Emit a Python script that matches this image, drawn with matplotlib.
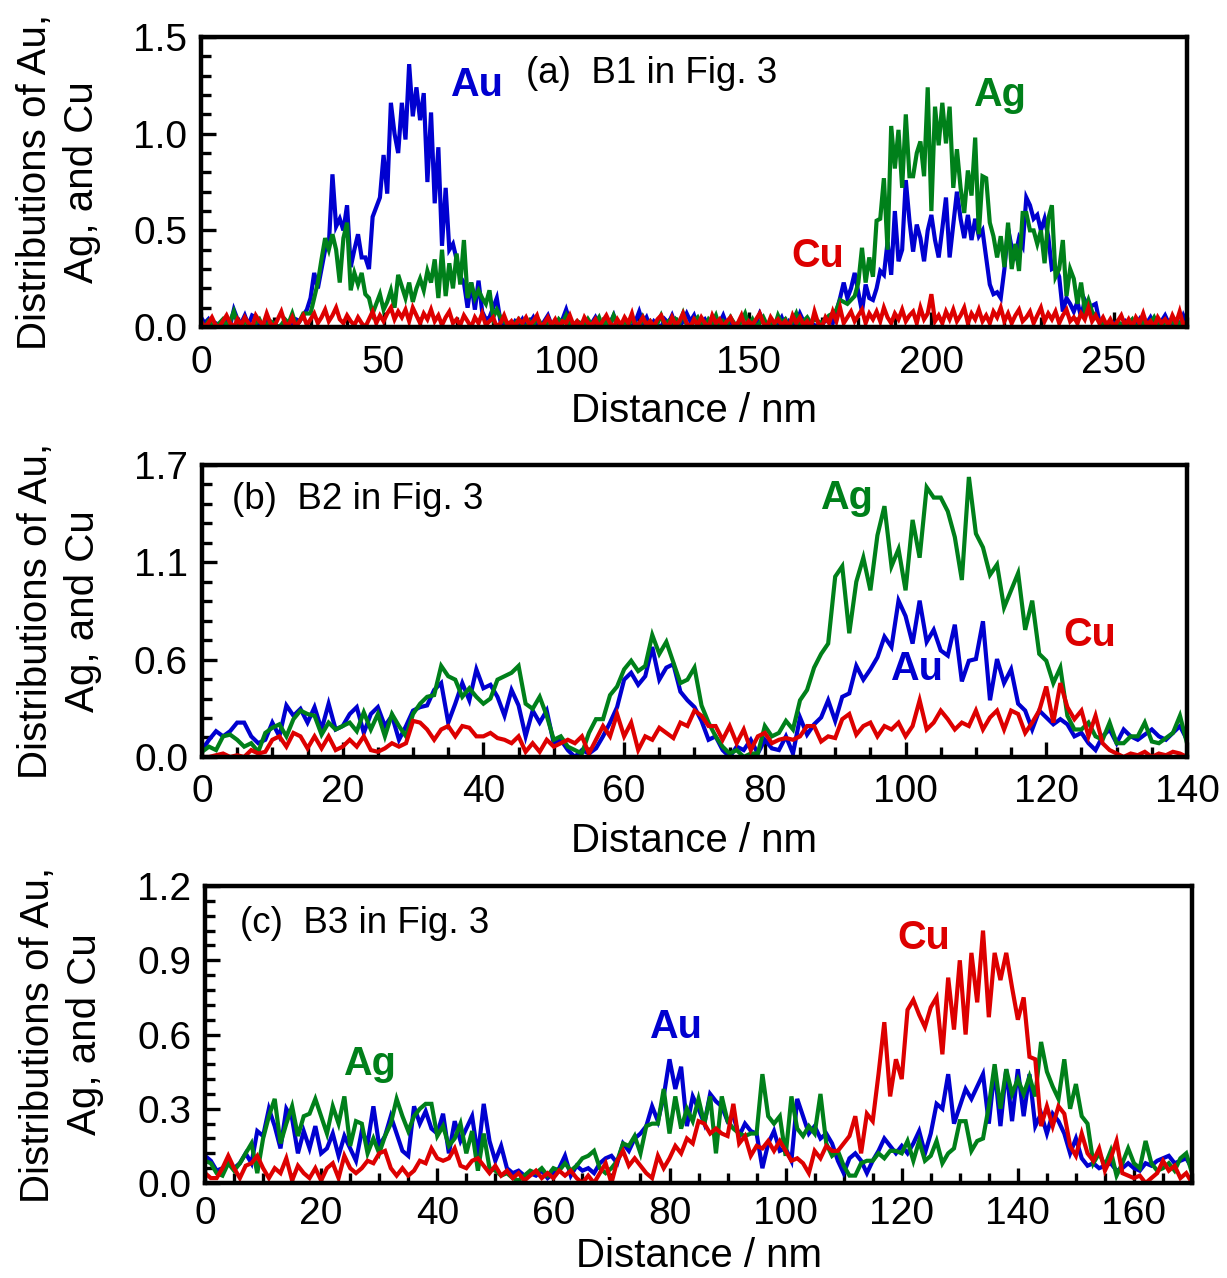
import matplotlib
matplotlib.use("Agg")
import matplotlib.pyplot as plt
from matplotlib.ticker import MultipleLocator, FixedLocator, FormatStrFormatter
import numpy as np

plt.rcParams['font.family'] = ['Liberation Sans', 'DejaVu Sans']

BLUE = '#0000D0'
GREEN = '#00801A'
RED = '#DD0000'

# ---------------- panel (a): B1, 0-270 nm, 1 nm step ----------------
dist_a = np.arange(0, 271)
au_a = [
    0.05, 0.02, 0.04, 0.0, 0.02, 0.01, 0.0, 0.03, 0.01, 0.09,
    0.04, 0.02, 0.06, 0.01, 0.06, 0.05, 0.01, 0.0, 0.03, 0.0,
    0.02, 0.0, 0.01, 0.03, 0.0, 0.02, 0.04, 0.03, 0.06, 0.09,
    0.15, 0.28, 0.2, 0.3, 0.4, 0.42, 0.79, 0.52, 0.56, 0.5,
    0.63, 0.31, 0.4, 0.48, 0.36, 0.36, 0.3, 0.57, 0.62, 0.67,
    0.89, 0.69, 1.16, 1.0, 0.9, 1.16, 0.97, 1.36, 1.09, 1.24,
    1.07, 1.21, 0.75, 1.11, 0.64, 0.93, 0.42, 0.72, 0.4, 0.43,
    0.35, 0.26, 0.23, 0.1, 0.23, 0.09, 0.24, 0.08, 0.04, 0.05,
    0.1, 0.15, 0.03, 0.01, 0.02, 0.0, 0.03, 0.01, 0.04, 0.0,
    0.02, 0.05, 0.01, 0.0, 0.03, 0.06, 0.01, 0.0, 0.02, 0.04,
    0.09, 0.03, 0.0, 0.02, 0.01, 0.04, 0.0, 0.02, 0.05, 0.01,
    0.0, 0.03, 0.02, 0.06, 0.0, 0.01, 0.04, 0.02, 0.0, 0.03,
    0.08, 0.02, 0.05, 0.0, 0.03, 0.01, 0.0, 0.04, 0.02, 0.06,
    0.01, 0.0, 0.03, 0.07, 0.03, 0.06, 0.0, 0.02, 0.04, 0.01,
    0.05, 0.0, 0.02, 0.06, 0.01, 0.03, 0.0, 0.02, 0.04, 0.01,
    0.03, 0.0, 0.02, 0.07, 0.03, 0.0, 0.04, 0.01, 0.02, 0.05,
    0.0, 0.03, 0.01, 0.02, 0.07, 0.03, 0.0, 0.02, 0.01, 0.0,
    0.02, 0.03, 0.05, 0.02, 0.08, 0.15, 0.23, 0.15, 0.2, 0.28,
    0.18, 0.08, 0.22, 0.15, 0.14, 0.2, 0.29, 0.27, 0.44, 0.27,
    0.6, 0.34, 0.4, 0.76, 0.55, 0.39, 0.53, 0.46, 0.34, 0.5,
    0.58, 0.45, 0.36, 0.51, 0.67, 0.36, 0.53, 0.7, 0.56, 0.46,
    0.58, 0.45, 0.56, 0.47, 0.5, 0.36, 0.22, 0.17, 0.18, 0.15,
    0.3, 0.51, 0.41, 0.37, 0.46, 0.42, 0.67, 0.63, 0.56, 0.58,
    0.5, 0.56, 0.47, 0.3, 0.31, 0.26, 0.08, 0.15, 0.12, 0.08,
    0.13, 0.05, 0.14, 0.1, 0.11, 0.12, 0.03, 0.02, 0.01, 0.0,
    0.02, 0.0, 0.01, 0.03, 0.0, 0.02, 0.01, 0.04, 0.0, 0.02,
    0.05, 0.01, 0.0, 0.03, 0.06, 0.02, 0.0, 0.03, 0.01, 0.06,
    0.02,
]
ag_a = [
    0.02, 0.0, 0.03, 0.01, 0.0, 0.02, 0.04, 0.01, 0.03, 0.08,
    0.02, 0.0, 0.03, 0.01, 0.0, 0.02, 0.04, 0.0, 0.01, 0.03,
    0.02, 0.0, 0.01, 0.04, 0.02, 0.07, 0.01, 0.03, 0.07, 0.07,
    0.07, 0.15, 0.23, 0.35, 0.46, 0.4, 0.48, 0.4, 0.23, 0.46,
    0.54, 0.19, 0.28, 0.22, 0.28, 0.17, 0.15, 0.07, 0.12, 0.17,
    0.09, 0.13, 0.19, 0.1, 0.27, 0.21, 0.15, 0.23, 0.13, 0.2,
    0.25, 0.19, 0.29, 0.23, 0.35, 0.15, 0.4, 0.16, 0.33, 0.2,
    0.38, 0.22, 0.45, 0.15, 0.23, 0.15, 0.19, 0.15, 0.12, 0.19,
    0.05, 0.09, 0.05, 0.03, 0.01, 0.0, 0.02, 0.04, 0.01, 0.0,
    0.03, 0.01, 0.05, 0.02, 0.0, 0.03, 0.01, 0.0, 0.04, 0.02,
    0.06, 0.01, 0.0, 0.03, 0.02, 0.0, 0.04, 0.01, 0.02, 0.05,
    0.0, 0.03, 0.01, 0.06, 0.02, 0.0, 0.03, 0.01, 0.04, 0.02,
    0.0, 0.05, 0.01, 0.03, 0.0, 0.02, 0.06, 0.01, 0.03, 0.0,
    0.04, 0.02, 0.07, 0.01, 0.0, 0.03, 0.05, 0.01, 0.0, 0.04,
    0.02, 0.06, 0.0, 0.03, 0.01, 0.05, 0.02, 0.0, 0.03, 0.07,
    0.01, 0.04, 0.0, 0.02, 0.05, 0.01, 0.03, 0.0, 0.06, 0.02,
    0.04, 0.0, 0.03, 0.07, 0.01, 0.03, 0.05, 0.02, 0.04, 0.03,
    0.02, 0.04, 0.06, 0.07, 0.09, 0.14, 0.13, 0.12, 0.14, 0.16,
    0.23, 0.41, 0.23, 0.36, 0.26, 0.55, 0.56, 0.77, 0.4, 1.04,
    0.82, 1.02, 0.72, 1.1, 0.78, 0.78, 0.9, 0.96, 0.78, 1.24,
    0.6, 1.14, 0.94, 1.16, 0.95, 1.14, 0.72, 0.92, 0.72, 0.59,
    0.81, 0.68, 0.98, 0.48, 0.78, 0.77, 0.54, 0.47, 0.36, 0.47,
    0.31, 0.54, 0.3, 0.43, 0.29, 0.59, 0.59, 0.5, 0.5, 0.43,
    0.5, 0.33, 0.56, 0.63, 0.26, 0.3, 0.45, 0.16, 0.3, 0.25,
    0.12, 0.23, 0.09, 0.14, 0.08, 0.05, 0.03, 0.01, 0.0, 0.02,
    0.0, 0.03, 0.01, 0.0, 0.02, 0.04, 0.0, 0.01, 0.03, 0.0,
    0.02, 0.05, 0.01, 0.0, 0.03, 0.01, 0.04, 0.0, 0.02, 0.01,
    0.0,
]
cu_a = [
    0.03, 0.0, 0.02, 0.05, 0.01, 0.0, 0.03, 0.06, 0.02, 0.0,
    0.04, 0.01, 0.05, 0.02, 0.0, 0.06, 0.03, 0.01, 0.07, 0.02,
    0.0, 0.04, 0.08, 0.02, 0.01, 0.05, 0.0, 0.03, 0.06, 0.01,
    0.04, 0.07, 0.02, 0.05, 0.09, 0.03, 0.06, 0.1, 0.04, 0.02,
    0.06, 0.03, 0.01, 0.05, 0.02, 0.0, 0.04, 0.08, 0.02, 0.06,
    0.03, 0.07, 0.1, 0.04, 0.08, 0.05, 0.09, 0.03, 0.1, 0.06,
    0.02, 0.07, 0.04, 0.09, 0.03, 0.06, 0.01, 0.05, 0.08, 0.02,
    0.04, 0.01, 0.06, 0.03, 0.0, 0.05, 0.02, 0.07, 0.01, 0.03,
    0.05, 0.0, 0.02, 0.06, 0.01, 0.03, 0.0, 0.04, 0.02, 0.05,
    0.01, 0.03, 0.06, 0.0, 0.02, 0.05, 0.01, 0.04, 0.0, 0.03,
    0.02, 0.06, 0.01, 0.03, 0.0, 0.05, 0.02, 0.01, 0.04, 0.0,
    0.03, 0.06, 0.02, 0.0, 0.04, 0.01, 0.05, 0.02, 0.07, 0.0,
    0.02, 0.05, 0.01, 0.03, 0.0, 0.04, 0.06, 0.02, 0.0, 0.05,
    0.01, 0.03, 0.07, 0.02, 0.0, 0.04, 0.01, 0.05, 0.02, 0.0,
    0.06, 0.02, 0.04, 0.0, 0.03, 0.05, 0.01, 0.02, 0.06, 0.0,
    0.03, 0.01, 0.04, 0.07, 0.02, 0.0, 0.05, 0.02, 0.04, 0.01,
    0.03, 0.0, 0.06, 0.02, 0.05, 0.01, 0.03, 0.0, 0.08, 0.02,
    0.0, 0.05, 0.02, 0.08, 0.03, 0.1, 0.02, 0.05, 0.08, 0.03,
    0.06, 0.09, 0.02, 0.07, 0.04, 0.08, 0.03, 0.1, 0.05, 0.02,
    0.07, 0.04, 0.09, 0.03, 0.06, 0.08, 0.02, 0.1, 0.04, 0.07,
    0.17, 0.03, 0.06, 0.02, 0.08, 0.04, 0.09, 0.03, 0.06, 0.1,
    0.02, 0.07, 0.04, 0.09, 0.03, 0.06, 0.02, 0.08, 0.05, 0.1,
    0.03, 0.07, 0.02, 0.06, 0.09, 0.03, 0.05, 0.08, 0.02, 0.06,
    0.1, 0.03, 0.07, 0.04, 0.08, 0.02, 0.06, 0.09, 0.03, 0.05,
    0.02, 0.07, 0.04, 0.1, 0.03, 0.06, 0.02, 0.05, 0.01, 0.04,
    0.0, 0.03, 0.06, 0.01, 0.04, 0.0, 0.05, 0.02, 0.07, 0.01,
    0.03, 0.0, 0.05, 0.02, 0.04, 0.01, 0.06, 0.02, 0.08, 0.01,
    0.03,
]

# ---------------- panel (b): B2, 0-140 nm, 1 nm step ----------------
dist_b = np.arange(0, 141)
au_b = [
    0.04, 0.1, 0.15, 0.12, 0.15, 0.2, 0.2, 0.12, 0.08, 0.1,
    0.2, 0.12, 0.3, 0.24, 0.28, 0.2, 0.29, 0.16, 0.31, 0.16,
    0.18, 0.25, 0.29, 0.14, 0.25, 0.29, 0.18, 0.24, 0.1, 0.18,
    0.27, 0.29, 0.3, 0.39, 0.43, 0.2, 0.31, 0.43, 0.33, 0.51,
    0.4, 0.42, 0.35, 0.24, 0.39, 0.3, 0.12, 0.27, 0.2, 0.27,
    0.08, 0.1, 0.04, 0.0, 0.04, 0.02, 0.05, 0.12, 0.2, 0.29,
    0.45, 0.49, 0.42, 0.47, 0.64, 0.45, 0.52, 0.54, 0.38, 0.33,
    0.29, 0.21, 0.1, 0.12, 0.04, 0.0, 0.06, 0.04, 0.1, 0.02,
    0.1, 0.05, 0.04, 0.12, 0.02, 0.23, 0.13, 0.19, 0.23, 0.33,
    0.21, 0.35, 0.37, 0.53, 0.45, 0.51, 0.58, 0.7, 0.64, 0.91,
    0.82, 0.66, 0.91, 0.67, 0.74, 0.62, 0.59, 0.77, 0.44, 0.56,
    0.57, 0.79, 0.33, 0.57, 0.43, 0.51, 0.31, 0.27, 0.16, 0.27,
    0.23, 0.19, 0.22, 0.19, 0.12, 0.14, 0.08, 0.04, 0.12, 0.16,
    0.08, 0.16, 0.12, 0.1, 0.13, 0.16, 0.12, 0.1, 0.14, 0.18,
    0.1,
]
ag_b = [
    0.03, 0.06, 0.04, 0.12, 0.13, 0.1, 0.06, 0.08, 0.03, 0.14,
    0.17, 0.19, 0.12, 0.22, 0.27, 0.25, 0.24, 0.13, 0.2, 0.16,
    0.18, 0.2, 0.15, 0.26, 0.16, 0.25, 0.12, 0.25, 0.18, 0.12,
    0.25, 0.31, 0.35, 0.36, 0.53, 0.47, 0.45, 0.35, 0.4, 0.35,
    0.31, 0.34, 0.45, 0.47, 0.49, 0.53, 0.31, 0.28, 0.35, 0.24,
    0.1, 0.12, 0.06, 0.04, 0.02, 0.14, 0.22, 0.22, 0.36, 0.41,
    0.51, 0.56, 0.5, 0.53, 0.71, 0.6, 0.67, 0.55, 0.43, 0.45,
    0.52, 0.3, 0.2, 0.12, 0.06, 0.02, 0.04, 0.0, 0.02, 0.02,
    0.18, 0.12, 0.14, 0.21, 0.16, 0.33, 0.39, 0.52, 0.6, 0.66,
    1.05, 1.11, 0.72, 1.02, 1.16, 0.97, 1.29, 1.46, 1.11, 1.21,
    0.97, 1.38, 1.16, 1.57, 1.51, 1.51, 1.43, 1.28, 1.03, 1.63,
    1.3, 1.22, 1.06, 1.12, 0.87, 0.97, 1.07, 0.74, 0.91, 0.6,
    0.56, 0.43, 0.52, 0.24, 0.16, 0.16, 0.2, 0.12, 0.1, 0.2,
    0.08, 0.08, 0.12, 0.12, 0.2, 0.09, 0.08, 0.11, 0.14, 0.24,
    0.08,
]
cu_b = [
    0.0, 0.0, 0.01, 0.02, 0.0, 0.01, 0.0, 0.04, 0.02, 0.03,
    0.1, 0.12, 0.06, 0.14, 0.12, 0.05, 0.12, 0.05, 0.12, 0.04,
    0.06, 0.1, 0.06, 0.12, 0.04, 0.03, 0.05, 0.08, 0.06, 0.08,
    0.21, 0.2, 0.16, 0.1, 0.16, 0.18, 0.12, 0.18, 0.17, 0.12,
    0.12, 0.14, 0.11, 0.1, 0.08, 0.12, 0.03, 0.08, 0.03, 0.1,
    0.06, 0.08, 0.1, 0.08, 0.12, 0.02, 0.1, 0.18, 0.12, 0.25,
    0.12, 0.2, 0.04, 0.12, 0.1, 0.17, 0.14, 0.11, 0.2, 0.18,
    0.27, 0.24, 0.18, 0.18, 0.1, 0.18, 0.08, 0.16, 0.04, 0.12,
    0.14, 0.08, 0.1, 0.11, 0.1, 0.12, 0.18, 0.18, 0.09, 0.12,
    0.11, 0.22, 0.25, 0.13, 0.18, 0.2, 0.12, 0.18, 0.16, 0.2,
    0.12, 0.18, 0.33, 0.16, 0.2, 0.27, 0.22, 0.16, 0.2, 0.18,
    0.27, 0.16, 0.23, 0.27, 0.16, 0.27, 0.25, 0.14, 0.2, 0.27,
    0.41, 0.2, 0.43, 0.29, 0.22, 0.27, 0.12, 0.24, 0.08, 0.04,
    0.02, 0.0, 0.02, 0.01, 0.03, 0.0, 0.02, 0.01, 0.03, 0.02,
    0.0,
]

# ---------------- panel (c): B3, 0-170 nm, 1 nm step ----------------
dist_c = np.arange(0, 171)
au_c = [
    0.11, 0.09, 0.05, 0.06, 0.08, 0.06, 0.08, 0.12, 0.08, 0.21,
    0.19, 0.3, 0.23, 0.14, 0.3, 0.26, 0.12, 0.21, 0.14, 0.23,
    0.12, 0.14, 0.2, 0.11, 0.19, 0.14, 0.09, 0.21, 0.16, 0.31,
    0.15, 0.19, 0.27, 0.2, 0.13, 0.11, 0.31, 0.24, 0.29, 0.22,
    0.2, 0.28, 0.12, 0.25, 0.17, 0.22, 0.27, 0.11, 0.32, 0.17,
    0.09, 0.15, 0.06, 0.04, 0.05, 0.03, 0.04, 0.03, 0.05, 0.02,
    0.04, 0.06, 0.11, 0.03, 0.07, 0.05, 0.06, 0.04, 0.08, 0.1,
    0.11, 0.08, 0.16, 0.13, 0.18, 0.2, 0.23, 0.31, 0.25, 0.35,
    0.5, 0.38, 0.47, 0.23, 0.35, 0.3, 0.24, 0.36, 0.33, 0.31,
    0.25, 0.27, 0.19, 0.24, 0.21, 0.2, 0.06, 0.16, 0.21, 0.13,
    0.14, 0.09, 0.34, 0.27, 0.2, 0.23, 0.18, 0.2, 0.16, 0.09,
    0.04, 0.1, 0.12, 0.09, 0.04, 0.09, 0.13, 0.18, 0.15, 0.12,
    0.15, 0.12, 0.16, 0.21, 0.12, 0.2, 0.32, 0.3, 0.44, 0.24,
    0.31, 0.38, 0.34, 0.39, 0.44, 0.24, 0.46, 0.23, 0.46, 0.25,
    0.46, 0.27, 0.44, 0.23, 0.28, 0.2, 0.28, 0.25, 0.2, 0.12,
    0.18, 0.1, 0.07, 0.08, 0.06, 0.07, 0.08, 0.05, 0.06, 0.08,
    0.06, 0.05, 0.08, 0.07, 0.09, 0.1, 0.11, 0.08, 0.09, 0.1,
    0.06,
]
ag_c = [
    0.09, 0.08, 0.04, 0.03, 0.08, 0.05, 0.08, 0.12, 0.16, 0.04,
    0.18, 0.27, 0.34, 0.16, 0.24, 0.31, 0.19, 0.27, 0.28, 0.34,
    0.27, 0.2, 0.31, 0.24, 0.35, 0.15, 0.25, 0.24, 0.12, 0.18,
    0.12, 0.19, 0.24, 0.34, 0.27, 0.21, 0.27, 0.3, 0.32, 0.32,
    0.19, 0.23, 0.15, 0.18, 0.24, 0.12, 0.21, 0.05, 0.2, 0.06,
    0.05, 0.03, 0.04, 0.02, 0.01, 0.03, 0.05, 0.04, 0.06, 0.03,
    0.06, 0.05, 0.08, 0.05, 0.07, 0.1, 0.11, 0.13, 0.06, 0.04,
    0.06, 0.09, 0.16, 0.15, 0.19, 0.12, 0.23, 0.24, 0.24, 0.38,
    0.2, 0.35, 0.22, 0.3, 0.25, 0.34, 0.24, 0.35, 0.12, 0.35,
    0.25, 0.22, 0.2, 0.19, 0.2, 0.2, 0.44, 0.27, 0.24, 0.27,
    0.11, 0.35, 0.22, 0.19, 0.23, 0.2, 0.36, 0.16, 0.11, 0.13,
    0.07, 0.03, 0.03, 0.08, 0.09, 0.09, 0.12, 0.1, 0.13, 0.13,
    0.12, 0.17, 0.09, 0.17, 0.09, 0.11, 0.17, 0.08, 0.12, 0.14,
    0.25, 0.25, 0.13, 0.17, 0.18, 0.31, 0.48, 0.3, 0.46, 0.36,
    0.42, 0.36, 0.43, 0.35, 0.57, 0.45, 0.39, 0.34, 0.5, 0.3,
    0.4, 0.27, 0.24, 0.08, 0.12, 0.07, 0.13, 0.03, 0.08, 0.14,
    0.08, 0.06, 0.17, 0.08, 0.05, 0.06, 0.08, 0.05, 0.1, 0.12,
    0.04,
]
cu_c = [
    0.04, 0.02, 0.02, 0.06, 0.11, 0.06, 0.02, 0.07, 0.08, 0.11,
    0.06, 0.02, 0.06, 0.04, 0.1, 0.01, 0.07, 0.04, 0.02, 0.06,
    0.01, 0.06, 0.08, 0.02, 0.11, 0.06, 0.04, 0.06, 0.09, 0.08,
    0.12, 0.13, 0.06, 0.03, 0.06, 0.03, 0.05, 0.09, 0.08, 0.14,
    0.1, 0.09, 0.1, 0.14, 0.07, 0.06, 0.09, 0.1, 0.07, 0.04,
    0.07, 0.03, 0.05, 0.02, 0.04, 0.01, 0.03, 0.05, 0.02, 0.04,
    0.02, 0.05, 0.03, 0.05, 0.02, 0.0, 0.03, 0.0, 0.04, 0.08,
    0.0, 0.09, 0.13, 0.07, 0.1, 0.07, 0.04, 0.02, 0.11, 0.06,
    0.1, 0.15, 0.12, 0.18, 0.16, 0.25, 0.24, 0.2, 0.22, 0.2,
    0.19, 0.32, 0.16, 0.19, 0.11, 0.15, 0.14, 0.17, 0.13, 0.17,
    0.13, 0.09, 0.1, 0.08, 0.04, 0.13, 0.1, 0.15, 0.13, 0.13,
    0.16, 0.19, 0.27, 0.12, 0.28, 0.25, 0.44, 0.65, 0.35, 0.5,
    0.42, 0.7, 0.74, 0.68, 0.63, 0.71, 0.75, 0.52, 0.83, 0.62,
    0.9, 0.6, 0.93, 0.73, 1.02, 0.67, 0.93, 0.82, 0.93, 0.79,
    0.66, 0.75, 0.51, 0.5, 0.23, 0.31, 0.23, 0.31, 0.28, 0.15,
    0.11, 0.2, 0.12, 0.09, 0.14, 0.05, 0.1, 0.17, 0.04, 0.03,
    0.02, 0.03, 0.0, 0.02, 0.04, 0.09, 0.05, 0.07, 0.02, 0.04,
    0.0,
]

# panel layout, text and axis settings
panels = [
    dict(x=dist_a, au=au_a, ag=ag_a, cu=cu_a, xlim=270, ylim=1.5,
         xmajor=50, xminor=10, yticks=[0, 0.5, 1.0, 1.5], yminor=0.1,
         title='(a)  B1 in Fig. 3', title_xy=(89, 1.31),
         au_xy=(68.3, 1.25), ag_xy=(211.5, 1.2), cu_xy=(161.8, 0.37),
         rect=[0.1638, 0.7441, 0.8036, 0.2269], xlab_y=-0.29, xpad=13),
    dict(x=dist_b, au=au_b, ag=ag_b, cu=cu_b, xlim=140, ylim=1.7,
         xmajor=20, xminor=5, yticks=list(np.linspace(0, 1.7, 4)), yminor=1.7 / 15,
         title='(b)  B2 in Fig. 3', title_xy=(4.2, 1.5),
         au_xy=(97.8, 0.51), ag_xy=(87.8, 1.51), cu_xy=(122.5, 0.71),
         rect=[0.1646, 0.4077, 0.8028, 0.2285], xlab_y=-0.288, xpad=12),
    dict(x=dist_c, au=au_c, ag=ag_c, cu=cu_c, xlim=170, ylim=1.2,
         xmajor=20, xminor=5, yticks=[0, 0.3, 0.6, 0.9, 1.2], yminor=0.06,
         title='(c)  B3 in Fig. 3', title_xy=(6.0, 1.05),
         au_xy=(76.5, 0.63), ag_xy=(23.8, 0.48), cu_xy=(119.3, 0.99),
         rect=[0.1671, 0.0743, 0.8044, 0.2324], xlab_y=-0.245, xpad=9),
]

fig = plt.figure(figsize=(12.27, 12.78), dpi=100)

for p in panels:
    assert len(p['au']) == len(p['x']) == len(p['ag']) == len(p['cu'])
    ax = fig.add_axes(p['rect'])
    ax.plot(p['x'], p['au'], color=BLUE, lw=3.0, solid_joinstyle='miter')
    ax.plot(p['x'], p['ag'], color=GREEN, lw=3.0, solid_joinstyle='miter')
    ax.plot(p['x'], p['cu'], color=RED, lw=3.0, solid_joinstyle='miter')

    ax.set_xlim(0, p['xlim'])
    ax.set_ylim(0, p['ylim'])
    ax.xaxis.set_major_locator(MultipleLocator(p['xmajor']))
    ax.xaxis.set_minor_locator(MultipleLocator(p['xminor']))
    ax.yaxis.set_major_locator(FixedLocator(p['yticks']))
    ax.yaxis.set_minor_locator(MultipleLocator(p['yminor']))
    ax.yaxis.set_major_formatter(FormatStrFormatter('%.1f'))

    for s in ax.spines.values():
        s.set_linewidth(3.2)
    ax.tick_params(which='both', direction='in', top=False, right=False,
                   width=2.4, labelsize=28)
    ax.tick_params(which='major', length=11)
    ax.tick_params(which='minor', length=7)
    ax.tick_params(axis='y', pad=10)
    ax.tick_params(axis='x', pad=p['xpad'])

    ax.set_xlabel('Distance / nm', fontsize=29, va='center')
    ax.xaxis.set_label_coords(0.5, p['xlab_y'])
    ax.set_ylabel('Distributions of Au,\nAg, and Cu', fontsize=29,
                  va='center', linespacing=1.3)
    ax.yaxis.set_label_coords(-0.145, 0.5)

    ax.text(*p['title_xy'], p['title'], fontsize=26.5, va='center', ha='left')
    ax.text(*p['au_xy'], 'Au', fontsize=28.5, fontweight='bold', color=BLUE,
            va='center', ha='left')
    ax.text(*p['ag_xy'], 'Ag', fontsize=28.5, fontweight='bold', color=GREEN,
            va='center', ha='left')
    ax.text(*p['cu_xy'], 'Cu', fontsize=28.5, fontweight='bold', color=RED,
            va='center', ha='left')

fig.savefig('out.png', dpi=100)
